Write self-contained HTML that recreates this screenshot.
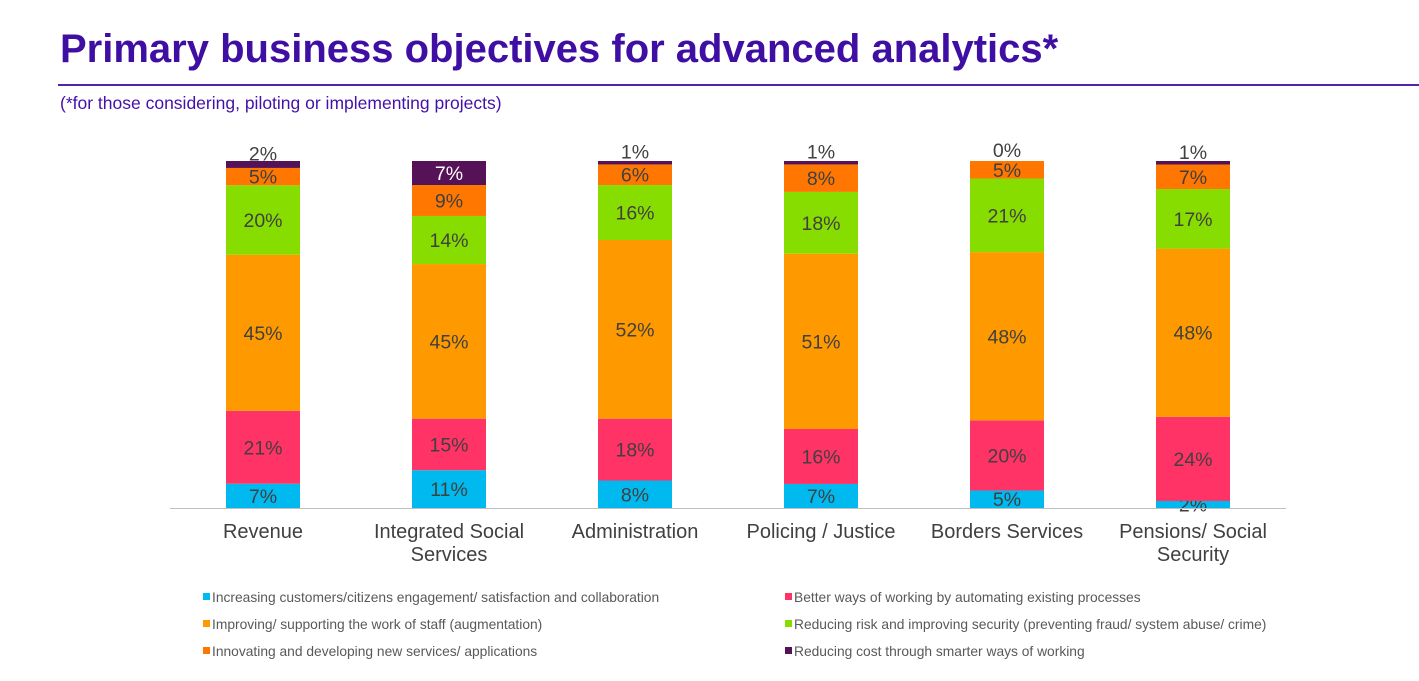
<!DOCTYPE html>
<html><head><meta charset="utf-8"><style>
body{margin:0;width:1419px;height:681px;background:#fff;font-family:"Liberation Sans",sans-serif;overflow:hidden;position:relative}
#title{position:absolute;left:60px;top:27px;font-size:40px;font-weight:bold;color:#3f0fa3;white-space:nowrap}
#rule{position:absolute;left:58px;top:84px;width:1361px;height:2px;background:#5522aa}
#sub{position:absolute;left:60px;top:93px;font-size:17.5px;color:#4411a8}
</style></head><body>
<div id="title">Primary business objectives for advanced analytics*</div>
<div id="rule"></div>
<div id="sub">(*for those considering, piloting or implementing projects)</div>
<svg id="chart" width="1419" height="681" style="position:absolute;left:0;top:0"></svg>
<script>
const categories=[["Revenue"],["Integrated Social","Services"],["Administration"],["Policing / Justice"],["Borders Services"],["Pensions/ Social","Security"]];
const seriesNames=["Increasing customers/citizens engagement/ satisfaction and collaboration","Better ways of working by automating existing processes","Improving/ supporting the work of staff (augmentation)","Reducing risk and improving security (preventing fraud/ system abuse/ crime)","Innovating and developing new services/ applications","Reducing cost through smarter ways of working"];
const engagement=[7,11,8,7,5,2];
const automating=[21,15,18,16,20,24];
const augmentation=[45,45,52,51,48,48];
const risk=[20,14,16,18,21,17];
const innovating=[5,9,6,8,5,7];
const cost=[2,7,1,1,0,1];
const series=[engagement,automating,augmentation,risk,innovating,cost];
const colors=["#00b9ef","#ff3366","#ff9900","#88dd00","#ff7700","#561256"];
const NS="http://www.w3.org/2000/svg";
const svg=document.getElementById('chart');
const base=508,top0=161,plotH=base-top0;
const x0=263,step=186,bw=74;
function xc(i){return x0+i*step;}
function yv(frac){return base-frac*plotH;}
function mk(t,a){const e=document.createElementNS(NS,t);for(const k in a)e.setAttribute(k,a[k]);svg.appendChild(e);return e;}
categories.forEach((c,i)=>{
  let tot=0;series.forEach(s=>tot+=s[i]);
  let cum=0;
  series.forEach((s,j)=>{
    const y1=yv(cum/tot),y2=yv((cum+s[i])/tot);cum+=s[i];
    const r=mk('rect',{x:xc(i)-bw/2,y:y2,width:bw,height:Math.max(0,y1-y2),fill:colors[j]});
    
    
    let ly=(y1+y2)/2;
    if(j===series.length-1&&s[i]<=2)ly-=11;
    const t=mk('text',{x:xc(i),y:ly+7,'text-anchor':'middle','font-size':19.5,fill:j===5&&s[i]>2?'#fff':'#404040'});
    t.textContent=s[i]+'%';
    
    
  });
  c.forEach((ln,k)=>{
    const t=mk('text',{x:xc(i),y:538+k*23,'text-anchor':'middle','font-size':20,fill:'#404040'});
    t.textContent=ln;
    
    
  });
});
const ax=mk('line',{x1:170,x2:1286,y1:base+0.5,y2:base+0.5,stroke:'#bfbfbf','stroke-width':1});


seriesNames.forEach((n,j)=>{
  const col=j%2,row=Math.floor(j/2);
  const lx=col?785:203,ly=597+row*27;
  const g=mk('g',{});
  
  
  const r=document.createElementNS(NS,'rect');
  r.setAttribute('x',lx);r.setAttribute('y',ly-4);r.setAttribute('width',7);r.setAttribute('height',7);r.setAttribute('fill',colors[j]);
  g.appendChild(r);
  const t=document.createElementNS(NS,'text');
  t.setAttribute('x',lx+9);t.setAttribute('y',ly+5);t.setAttribute('font-size',13.8);t.setAttribute('fill','#595959');
  t.textContent=n;g.appendChild(t);
});
</script>
</body></html>
